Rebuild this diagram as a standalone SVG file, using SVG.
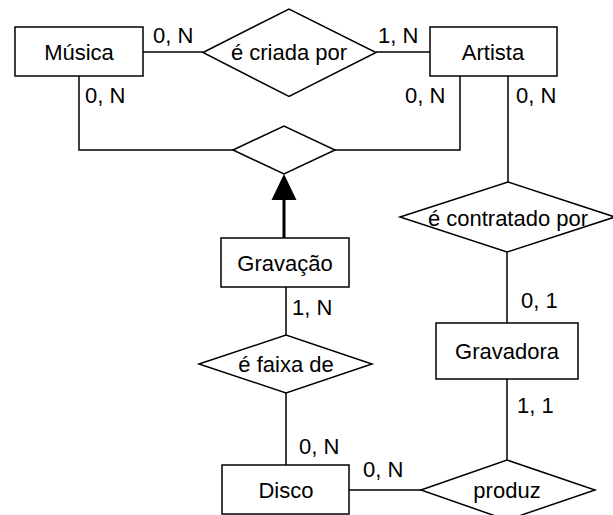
<svg xmlns="http://www.w3.org/2000/svg" width="613" height="515" viewBox="0 0 613 515">
<defs>
<style>
.box{fill:#fff;stroke:#000;stroke-width:1.5}
.ln{fill:none;stroke:#000;stroke-width:1.5}
text{font-family:"Liberation Sans",Arial,sans-serif;font-size:22px;fill:#000}
.c{text-anchor:middle}
</style>
</defs>
<rect width="613" height="515" fill="#fff"/>
<g id="connectors">
<line class="ln" x1="143" y1="52" x2="203" y2="52"/>
<line class="ln" x1="376" y1="52" x2="430" y2="52"/>
<polyline class="ln" points="79,76 79,150 233,150"/>
<polyline class="ln" points="335,150 460,150 460,76"/>
<line class="ln" x1="508" y1="76" x2="508" y2="182"/>
<line class="ln" x1="507" y1="252" x2="507" y2="323"/>
<line class="ln" x1="507" y1="379" x2="507" y2="460"/>
<line class="ln" x1="286" y1="287" x2="286" y2="335"/>
<line class="ln" x1="286" y1="393" x2="286" y2="465"/>
<line class="ln" x1="349" y1="490" x2="421" y2="490"/>
<line x1="284" y1="238" x2="284" y2="198" stroke="#000" stroke-width="3"/>
<polygon points="284,174 271.5,200 296.5,200" fill="#000"/>
<text x="153" y="43">0, N</text>
<text x="378" y="43">1, N</text>
<text x="85" y="103">0, N</text>
<text x="405" y="103">0, N</text>
<text x="516" y="103">0, N</text>
<text x="292" y="315">1, N</text>
<text x="521" y="308">0, 1</text>
<text x="517" y="413">1, 1</text>
<text x="299" y="454">0, N</text>
<text x="363" y="477">0, N</text>
</g>
<g id="musica"><rect class="box" x="15" y="27" width="128" height="49"/><text class="c" x="79" y="60">Música</text></g>
<g id="criada"><polygon class="box" points="203,52.5 289,9 376,52.5 289,96.5"/><text class="c" x="289" y="60">é criada por</text></g>
<g id="artista"><rect class="box" x="430" y="27" width="127" height="49"/><text class="c" x="493" y="60">Artista</text></g>
<g id="agregacao"><polygon class="box" points="233,150 284,126 335,150 284,174"/></g>
<g id="gravacao"><rect class="box" x="221" y="238" width="128" height="49"/><text class="c" x="285" y="271">Gravação</text></g>
<g id="contratado"><polygon class="box" points="400,217 508,182 615,217 507,252"/><text class="c" x="508" y="226">é contratado por</text></g>
<g id="gravadora"><rect class="box" x="436" y="323" width="142" height="56"/><text class="c" x="507" y="359">Gravadora</text></g>
<g id="faixa"><polygon class="box" points="199,364 286,335 372,364 286,393"/><text class="c" x="286" y="372">é faixa de</text></g>
<g id="disco"><rect class="box" x="222" y="465" width="127" height="49"/><text class="c" x="286" y="498">Disco</text></g>
<g id="produz"><polygon class="box" points="421,490 507,460 595,490 507,520"/><text class="c" x="507" y="498">produz</text></g>
</svg>
